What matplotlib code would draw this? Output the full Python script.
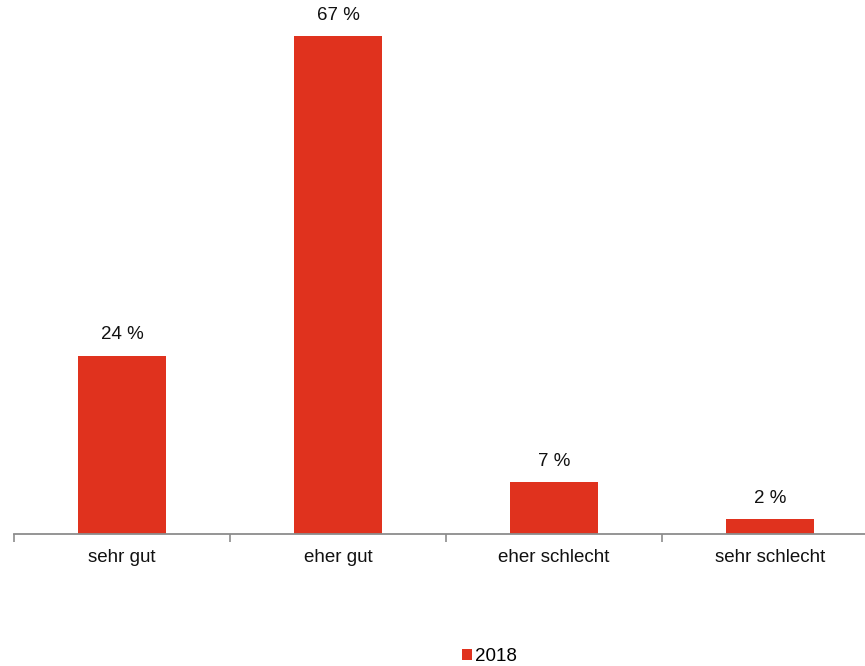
import numpy as np
import matplotlib.pyplot as plt

categories = ['sehr gut', 'eher gut', 'eher schlecht', 'sehr schlecht']
values = [24, 67, 7, 2]
series_name = '2018'

bar_color = '#E0321E'
axis_color = '#8c8c8c'

plt.rcParams['font.family'] = ['Liberation Sans', 'DejaVu Sans']

fig = plt.figure(figsize=(8.65, 6.66), dpi=100)
ax = fig.add_axes([14 / 865, 132 / 666, 864 / 865, 520 / 666])

x = np.arange(len(categories))
bars = ax.bar(x, values, width=0.41, color=bar_color, label=series_name, zorder=2)

for xi, v in zip(x, values):
    ax.annotate('{} %'.format(v), (xi, v), xytext=(0, 9), textcoords='offset points',
                ha='center', va='bottom', fontsize=13.5, color='#111111')

ax.set_xlim(-0.5, len(categories) - 0.5)
ax.set_ylim(0, 70)
ax.set_xticks(x)
ax.set_xticklabels(categories, fontsize=13.5, color='#111111')
ax.tick_params(axis='x', which='major', length=0, pad=11)
ax.set_xticks(np.arange(-0.5, len(categories)), minor=True)
ax.tick_params(axis='x', which='minor', length=6, width=1.2, color=axis_color)
ax.set_yticks([])

for side in ['top', 'right', 'left']:
    ax.spines[side].set_visible(False)
ax.spines['bottom'].set_color(axis_color)
ax.spines['bottom'].set_linewidth(1.3)

fig.legend(loc='lower center', bbox_to_anchor=(0.566, -0.024), frameon=False,
           fontsize=13.5, handlelength=0.55, handleheight=0.55, handletextpad=0.15)

fig.savefig('out.png', dpi=100)
